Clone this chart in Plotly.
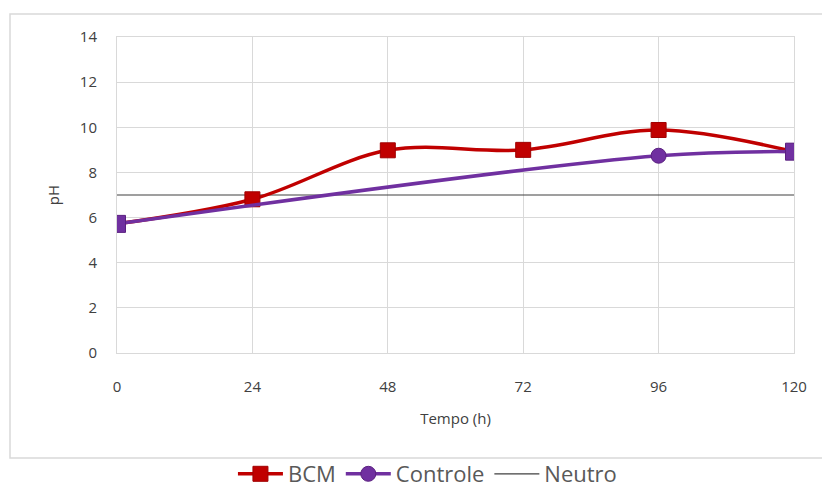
import plotly.graph_objects as go

tempo = [0, 24, 48, 72, 96, 120]
bcm = [5.72, 6.81, 8.98, 9.0, 9.88, 8.92]
controle_t = [0, 96, 120]
controle = [5.72, 8.74, 8.92]
neutro_t = [0, 120]
neutro = [7, 7]

RED = "#C00000"
PURPLE = "#7030A0"
GRAY = "#404040"
FONT = "Open Sans"

fig = go.Figure()
fig.add_trace(go.Scatter(
    x=neutro_t, y=neutro, mode="lines", name="Neutro", legendrank=3,
    line=dict(color="#404040", width=1.2)))
fig.add_trace(go.Scatter(
    x=tempo, y=bcm, mode="lines+markers", name="BCM", legendrank=1,
    line=dict(color=RED, width=3.5, shape="spline", smoothing=1),
    marker=dict(symbol="square", size=15, color=RED, line=dict(color="#A00000", width=1))))
fig.add_trace(go.Scatter(
    x=controle_t, y=controle, mode="lines+markers", name="Controle", legendrank=2,
    line=dict(color=PURPLE, width=3.5, shape="spline", smoothing=1),
    marker=dict(symbol="circle", size=15, color=PURPLE, line=dict(color="#5A2080", width=1))))
fig.add_trace(go.Scatter(
    x=[controle_t[0], controle_t[-1]], y=[controle[0], controle[-1]], mode="markers",
    showlegend=False, hoverinfo="skip",
    marker=dict(symbol="square", size=17, color=PURPLE, line=dict(color="#5A2080", width=1))))

L, R, T, B = 117, 28, 37, 142
W, H = 822, 495
pw, ph = W - L - R, H - T - B

fig.update_layout(
    width=W, height=H,
    margin=dict(l=L, r=R, t=T, b=B, autoexpand=False),
    paper_bgcolor="white", plot_bgcolor="white",
    font=dict(family=FONT, color=GRAY, size=14),
    showlegend=True,
    legend=dict(orientation="h", x=0.52, xanchor="center", xref="container",
                y=0.0, yanchor="bottom", yref="container",
                font=dict(size=22, color="#595959"), traceorder="normal",
                itemwidth=45, bgcolor="rgba(0,0,0,0)"),
    xaxis=dict(range=[0, 120], tickvals=tempo, showgrid=True, gridcolor="#D9D9D9",
               zeroline=False, showline=True, linecolor="#D9D9D9", mirror=True,
               ticklabelstandoff=20, tickfont=dict(size=15, color=GRAY),
               title=dict(text="Tempo (h)", font=dict(size=15, color=GRAY), standoff=18)),
    yaxis=dict(range=[0, 14], dtick=2, showgrid=True, gridcolor="#D9D9D9",
               zeroline=False, showline=True, linecolor="#D9D9D9", mirror=True,
               ticklabelstandoff=16, tickfont=dict(size=15, color=GRAY),
               title=dict(text="pH", font=dict(size=15, color=GRAY), standoff=16)),
)

# outer chart border
fig.add_shape(type="rect", xref="paper", yref="paper",
              x0=(10 - L) / pw, x1=(826 - L) / pw,
              y0=-(458 - (H - B)) / ph, y1=1 + (T - 14) / ph,
              line=dict(color="#D9D9D9", width=1.5), fillcolor="rgba(0,0,0,0)", layer="below")

fig.write_html("out.html")
